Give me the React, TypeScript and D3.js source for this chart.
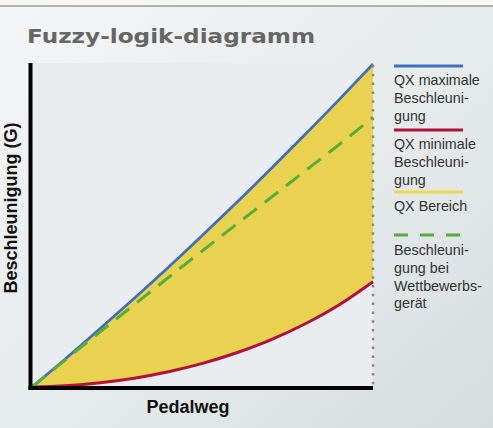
import React, { useEffect } from 'react';
import * as d3 from 'd3';

// pedal travel in % of full stroke
const pedalweg = [0, 10, 20, 30, 40, 50, 60, 70, 80, 90, 100];
// acceleration in % of the maximum
const maxBeschl = [0, 8.9, 18.1, 27.5, 37.1, 47, 57.1, 67.5, 78.1, 88.9, 100];
const minBeschl = [0, 0.4, 1.3, 2.7, 4.7, 7.3, 10.6, 14.6, 19.5, 25.4, 32.6];
const wettbewerb = [0, 8.6, 17.1, 25.5, 33.9, 42.2, 50.4, 58.6, 66.8, 75, 83.5];

const legendItems = [
  { color: '#3f6fc0', dash: null, lines: ['QX maximale', 'Beschleuni-', 'gung'] },
  { color: '#b3103a', dash: null, lines: ['QX minimale', 'Beschleuni-', 'gung'] },
  { color: '#f0d64a', dash: null, lines: ['QX Bereich'] },
  { color: '#58ad3c', dash: '14 12', lines: ['Beschleuni-', 'gung bei', 'Wettbewerbs-', 'gerät'] },
];
const legendY = [66, 130, 192, 235];

function App() {
  useEffect(() => {
    document.body.style.margin = '0';
  }, []);

  const W = 493;
  const H = 428;
  const left = 32, right = 373, top = 63, bottom = 387;

  const x = d3.scaleLinear().domain([0, 100]).range([left, right]);
  const y = d3.scaleLinear().domain([0, 100]).range([bottom, top + 1]);

  const pts = (vals: number[]) => pedalweg.map((p, i) => [p, vals[i]] as [number, number]);

  const line = d3
    .line<[number, number]>()
    .x((d) => x(d[0]))
    .y((d) => y(d[1]))
    .curve(d3.curveMonotoneX);

  const band = d3
    .area<number>()
    .x((d) => x(d))
    .y0((_, i) => y(minBeschl[i]))
    .y1((_, i) => y(maxBeschl[i]))
    .curve(d3.curveMonotoneX);

  const font = '"Liberation Sans", Arial, sans-serif';

  return (
    <svg width={W} height={H} style={{ display: 'block' }}>
      <defs>
        <linearGradient id="bg" x1="0" y1="0" x2="1" y2="1">
          <stop offset="0" stopColor="#f5f6f7" />
          <stop offset="0.6" stopColor="#e4e9ea" />
          <stop offset="1" stopColor="#d6dddf" />
        </linearGradient>
      </defs>
      <rect width={W} height={H} fill="url(#bg)" />
      <rect width={W} height={6} fill="#f8f5f5" />
      <line x1={0} x2={W} y1={6} y2={6} stroke="#9a9a9a" strokeWidth={1.5} />

      <text
        x={27}
        y={43}
        fontFamily='"DejaVu Sans", sans-serif'
        fontWeight="bold"
        fontSize={20}
        fill="#666"
        textLength={288}
        lengthAdjust="spacingAndGlyphs"
      >
        Fuzzy-logik-diagramm
      </text>

      <rect x={left} y={top} width={right - left} height={bottom - top} fill="#ebecf0" />

      <path d={band(pedalweg) || ''} fill="#e8d24f" />
      <path d={line(pts(minBeschl)) || ''} fill="none" stroke="#b3103a" strokeWidth={3} />
      <path d={line(pts(maxBeschl)) || ''} fill="none" stroke="#3f6fc0" strokeWidth={2.8} />
      <path
        d={line(pts(wettbewerb)) || ''}
        fill="none"
        stroke="#58ad3c"
        strokeWidth={3}
        strokeDasharray="17 10"
      />

      {/* dotted right border */}
      <line
        x1={right}
        x2={right}
        y1={top + 2}
        y2={bottom + 2}
        stroke="#888"
        strokeWidth={2.5}
        strokeDasharray="2.5 6.3"
      />

      {/* axes */}
      <line x1={30.5} x2={30.5} y1={top} y2={bottom + 3} stroke="#000" strokeWidth={4} />
      <line x1={28.5} x2={right} y1={bottom + 1} y2={bottom + 1} stroke="#000" strokeWidth={4} />

      <text
        x={188}
        y={413}
        textAnchor="middle"
        fontFamily={font}
        fontWeight="bold"
        fontSize={18}
        fill="#111"
      >
        Pedalweg
      </text>
      <text
        transform="translate(17,208) rotate(-90)"
        textAnchor="middle"
        fontFamily={font}
        fontWeight="bold"
        fontSize={18}
        fill="#111"
      >
        Beschleunigung (G)
      </text>

      {legendItems.map((item, i) => (
        <g key={i} transform={`translate(394,${legendY[i]})`}>
          <line
            x1={0}
            x2={69}
            y1={0}
            y2={0}
            stroke={item.color}
            strokeWidth={3.2}
            strokeDasharray={item.dash || undefined}
          />
          {item.lines.map((t, j) => (
            <text
              key={j}
              x={0}
              y={(i === 3 ? 20 : 19) + j * 17.8}
              fontFamily={font}
              fontSize={14.3}
              fill="#333"
            >
              {t}
            </text>
          ))}
        </g>
      ))}
    </svg>
  );
}

export default App;
